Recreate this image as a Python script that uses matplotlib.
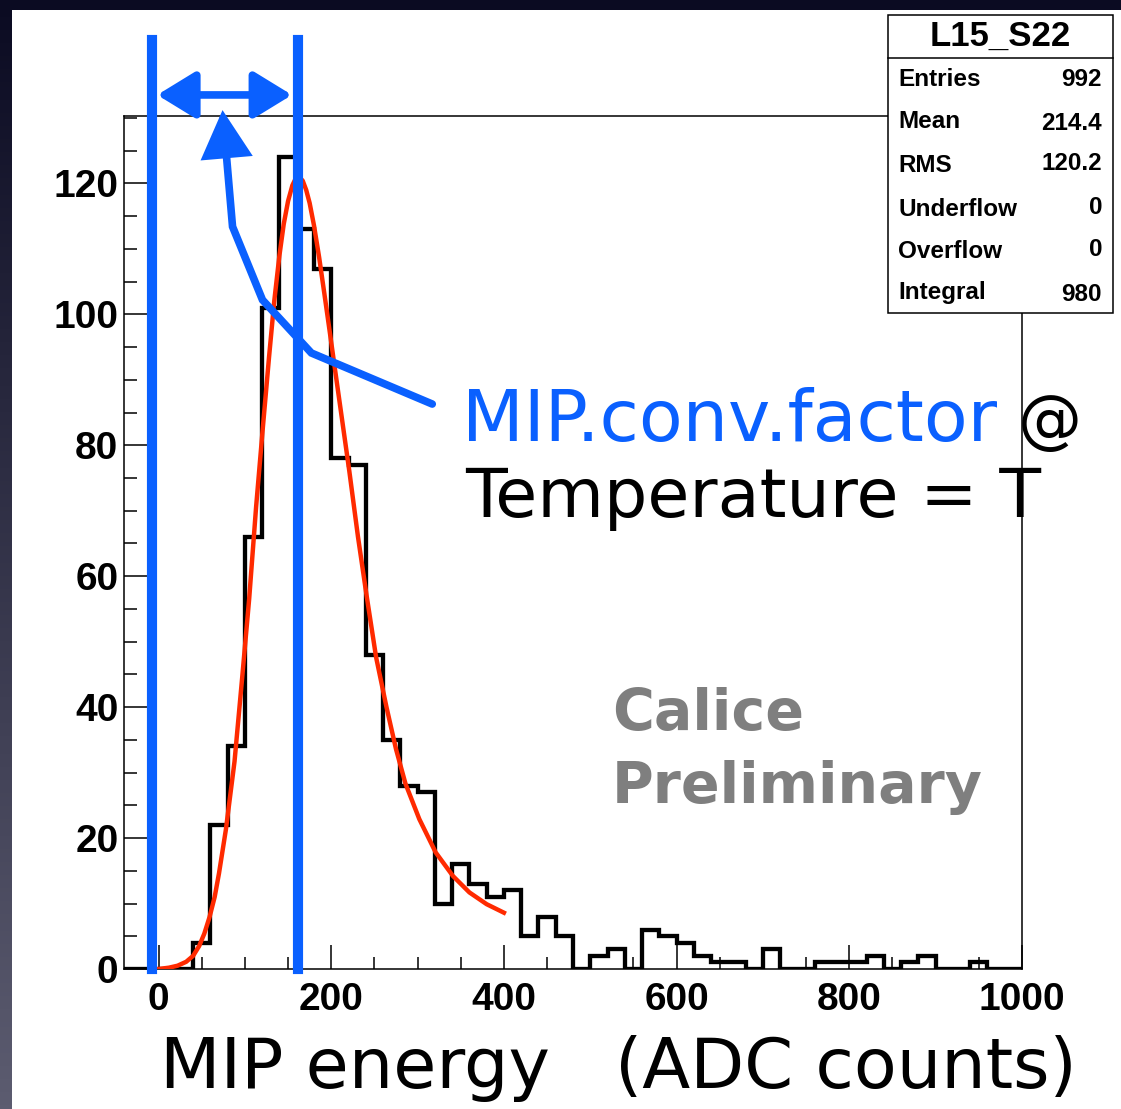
import numpy as np
import matplotlib
matplotlib.use("Agg")
import matplotlib.pyplot as plt
from matplotlib.patches import Rectangle, FancyArrowPatch
from matplotlib.path import Path
from matplotlib.lines import Line2D
from matplotlib.colors import LinearSegmentedColormap

# ---- data ----
# MIP energy histogram, 20 ADC-count bins from -40 to 1000
bin_edges = np.arange(-40, 1001, 20)
counts = [0, 0, 0, 0, 4, 22, 34, 66, 101, 124, 113, 107, 78, 77, 48, 35, 28, 27,
          10, 16, 13, 11, 12, 5, 8, 5, 0, 2, 3, 0, 6, 5, 4, 2, 1, 1, 0, 3, 0, 0,
          1, 1, 1, 2, 0, 1, 2, 0, 0, 1, 0, 0]

# fitted curve (red)
fit_x = [0, 12, 22, 32, 40, 47, 53, 59, 65, 70, 78, 88, 97, 105, 113, 121, 128,
         134, 140, 145, 150, 155, 159, 163, 167, 171, 175, 180, 186, 192, 198,
         205, 213, 221, 231, 241, 252, 264, 275, 286, 302, 321, 341, 360, 380, 400]
fit_y = [0, 0.2, 0.5, 1.1, 2.0, 3.5, 5.4, 7.9, 11.0, 14.6, 21.3, 31.7, 44.7, 56.6,
         70.6, 83.0, 93.5, 102.0, 109.0, 113.8, 117.3, 119.7, 120.8, 121.0, 120.4,
         119.0, 117.0, 113.6, 108.7, 103.2, 97.6, 91.0, 83.5, 76.0, 66.0, 57.0,
         47.6, 40.0, 33.6, 28.3, 22.9, 17.8, 14.2, 11.7, 9.9, 8.6]

pedestal_adc = -8     # left blue marker
mip_peak_adc = 161    # right blue marker

stats_title = "L15_S22"
stat_names = ["Entries", "Mean", "RMS", "Underflow", "Overflow", "Integral"]
stat_values = ["992", "214.4", "120.2", "0", "0", "980"]

BLUE = "#0a60ff"
RED = "#ff2a00"
W, H = 1121, 1109


def fx(x):  # pixel -> figure fraction
    return x / W


def fy(y):
    return 1 - y / H


fig = plt.figure(figsize=(W / 100, H / 100), dpi=100)

# dark slide background + white panel
bg = fig.add_axes([0, 0, 1, 1], zorder=-10)
cmap = LinearSegmentedColormap.from_list("bg", ["#5c5c70", "#0b0b22"])
bg.imshow(np.linspace(0, 1, 256).reshape(-1, 1), aspect="auto", cmap=cmap,
          extent=[0, 1, 0, 1], origin="lower")
bg.add_patch(Rectangle((fx(12), 0), 1, fy(10), facecolor="white", edgecolor="none"))
bg.set_xlim(0, 1)
bg.set_ylim(0, 1)
bg.axis("off")

ax = fig.add_axes([fx(124), 1 - 969 / H, 898 / W, 853 / H])
ax.patch.set_alpha(0)

ax.stairs(counts, bin_edges, color="black", lw=3.1, zorder=3)
ax.plot(fit_x, fit_y, color=RED, lw=3.2, zorder=4, solid_joinstyle="round")

ax.set_xlim(-40, 1000)
ax.set_ylim(0, 130.3)
ax.set_xticks(range(0, 1001, 200))
ax.set_xticks(range(0, 1001, 50), minor=True)
ax.set_yticks(range(0, 121, 20))
ax.set_yticks(range(0, 131, 5), minor=True)
ax.tick_params(which="both", direction="in", top=False, right=False, width=1.1)
ax.tick_params(which="major", length=17)
ax.tick_params(which="minor", length=9)
ax.tick_params(axis="x", pad=9)
ax.tick_params(axis="y", pad=4)
for lab in ax.get_xticklabels() + ax.get_yticklabels():
    lab.set_fontfamily("Liberation Sans")
    lab.set_fontweight("bold")
    lab.set_fontsize(28)
for sp in ax.spines.values():
    sp.set_linewidth(1.1)

# blue markers
top_frac = (969 - 40) / 853
for xv in (pedestal_adc, mip_peak_adc):
    ax.axvline(xv, ymin=0, ymax=top_frac, color=BLUE, lw=7.3, clip_on=False, zorder=6)

y_arrow = (969 - 95) / 6.546
ax.add_patch(FancyArrowPatch((pedestal_adc, y_arrow), (mip_peak_adc, y_arrow),
                             arrowstyle="<|-|>,head_length=1.55,head_width=0.95",
                             mutation_scale=15, lw=5.5, color=BLUE,
                             shrinkA=4, shrinkB=4, clip_on=False, zorder=6))

pointer = [(317, 86.3), (177, 94.1), (120.4, 102.2), (85.7, 113.4), (74.1, 131.2)]
ax.add_patch(FancyArrowPatch(path=Path(pointer),
                             arrowstyle="-|>,head_length=1.75,head_width=0.95",
                             mutation_scale=15, lw=5.5, color=BLUE,
                             joinstyle="miter", clip_on=False, zorder=6))

# annotation texts (under the frame, like the original)
big = dict(transform=fig.transFigure, family="DejaVu Sans",
           va="baseline", ha="left", zorder=2, clip_on=False)
ax.text(fx(462), fy(441), "MIP.conv.factor", color=BLUE, fontsize=51.5, **big)
ax.text(fx(1018), fy(441), "@", color="black", fontsize=46, **big)
ax.text(fx(465), fy(517), "Temperature = T", color="black", fontsize=49.2, **big)

prelim = dict(transform=fig.transFigure, family="DejaVu Sans", fontweight="bold",
              fontsize=41, color="#7f7f7f", va="baseline", ha="left", zorder=2)
ax.text(fx(612), fy(730), "Calice", **prelim)
ax.text(fx(612), fy(803), "Preliminary", **prelim)

xl = dict(family="DejaVu Sans", fontsize=50.5, va="baseline", ha="left", color="black")
fig.text(fx(160), fy(1088), "MIP energy", **xl)
fig.text(fx(615), fy(1088), "(ADC counts)", **xl)

# stats box
ax.add_patch(Rectangle((fx(888), fy(313)), fx(1113) - fx(888), fy(15) - fy(313),
                       transform=fig.transFigure, facecolor="white", edgecolor="black",
                       lw=1.1, clip_on=False, zorder=10))
ax.add_line(Line2D([fx(888), fx(1113)], [fy(58), fy(58)], transform=fig.transFigure,
                   color="black", lw=1.1, clip_on=False, zorder=11))
ax.text(fx(1000), fy(36), stats_title, transform=fig.transFigure, ha="center",
        va="center", family="Liberation Sans", fontweight="bold", fontsize=25,
        zorder=12)
row_y = [79, 122, 166, 209, 251, 292]
val_y = [79, 124, 164, 208, 250, 294]
for name, val, ry, vy in zip(stat_names, stat_values, row_y, val_y):
    ax.text(fx(898), fy(ry), name, transform=fig.transFigure, ha="left", va="center",
            family="Liberation Sans", fontweight="bold", fontsize=17.5, zorder=12)
    ax.text(fx(1102), fy(vy), val, transform=fig.transFigure, ha="right", va="center",
            family="Liberation Sans", fontweight="bold", fontsize=17.5, zorder=12)

fig.savefig("out.png", dpi=100)
